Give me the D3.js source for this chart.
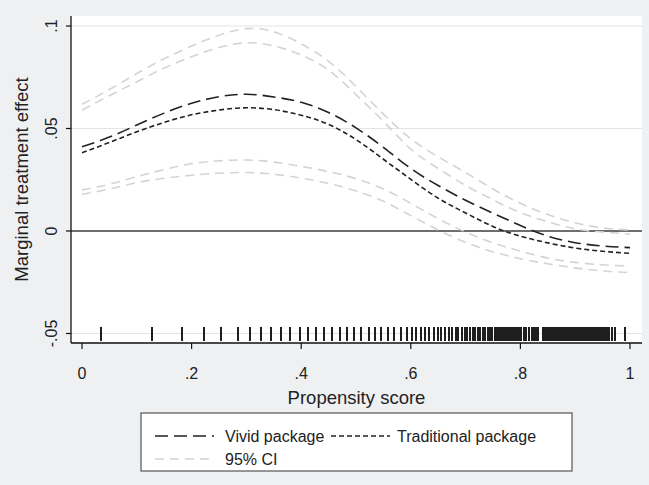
<!DOCTYPE html>
<html>
<head>
<meta charset="utf-8">
<script src="https://cdn.jsdelivr.net/npm/d3@7"></script>
<style>
  body { margin: 0; background: #eef0f2; }
  svg { display: block; font-family: "Liberation Sans", Arial, sans-serif; }
</style>
</head>
<body>
<div id="chart"></div>
<script>
// propensity score grid and the estimated effects
const scores = [0, .05, .1, .15, .2, .25, .3, .35, .4, .45, .5, .55, .6, .65, .7, .75, .8, .85, .9, .95, 1];

const vivid = [0.0411, 0.0458, 0.0517, 0.0575, 0.0623, 0.0655, 0.0667, 0.0654, 0.0628, 0.0578, 0.0503,
  0.0408, 0.0305, 0.0222, 0.0150, 0.0087, 0.0027, -0.0025, -0.0057, -0.0073, -0.0081];
const traditional = [0.0382, 0.0432, 0.0484, 0.0530, 0.0567, 0.0590, 0.0601, 0.0592, 0.0565, 0.0520, 0.0446,
  0.0350, 0.0252, 0.0160, 0.0088, 0.0022, -0.0025, -0.0058, -0.0083, -0.0099, -0.0109];

const vividUpper = [0.0618, 0.0690, 0.0768, 0.0840, 0.0902, 0.0955, 0.0987, 0.0972, 0.0913, 0.0828, 0.0705,
  0.0570, 0.0450, 0.0362, 0.0285, 0.0205, 0.0135, 0.0080, 0.0040, 0.0015, 0.0005];
const vividLower = [0.0200, 0.0228, 0.0265, 0.0300, 0.0328, 0.0342, 0.0346, 0.0336, 0.0315, 0.0290, 0.0255,
  0.0205, 0.0135, 0.0060, -0.0005, -0.0058, -0.0098, -0.0132, -0.0153, -0.0165, -0.0171];
const tradUpper = [0.0590, 0.0660, 0.0728, 0.0795, 0.0850, 0.0895, 0.0918, 0.0903, 0.0858, 0.0785, 0.0665,
  0.0535, 0.0400, 0.0305, 0.0222, 0.0152, 0.0090, 0.0045, 0.0010, -0.0005, -0.0015];
const tradLower = [0.0179, 0.0205, 0.0236, 0.0257, 0.0272, 0.0282, 0.0285, 0.0277, 0.0258, 0.0232, 0.0195,
  0.0145, 0.0075, 0.0005, -0.0055, -0.0102, -0.0135, -0.0160, -0.0180, -0.0195, -0.0203];

// rug of observed propensity scores
const rugScores = [0.034, 0.128, 0.183, 0.222, 0.253, 0.284, 0.306, 0.326, 0.345, 0.363, 0.380, 0.397,
  0.412, 0.427, 0.442, 0.457, 0.470, 0.484, 0.497, 0.509, 0.523, 0.535, 0.546, 0.558, 0.569,
  0.583, 0.593, 0.602, 0.610, 0.619, 0.626, 0.634, 0.642, 0.649, 0.656, 0.662, 0.669, 0.676, 0.682,
  0.687, 0.693, 0.698, 0.703, 0.708, 0.713, 0.717, 0.722, 0.726, 0.731, 0.735, 0.740, 0.745, 0.749,
  0.753, 0.757, 0.761, 0.764, 0.768, 0.771, 0.775, 0.778, 0.781, 0.784, 0.787, 0.790, 0.793, 0.797,
  0.801, 0.807, 0.811, 0.816, 0.821, 0.824, 0.828, 0.833,
  0.842, 0.845, 0.848, 0.851, 0.854, 0.857, 0.860, 0.863, 0.866, 0.869, 0.872, 0.875, 0.878, 0.881,
  0.884, 0.887, 0.890, 0.893, 0.896, 0.899, 0.902, 0.905, 0.908, 0.911, 0.914, 0.917, 0.920, 0.923,
  0.926, 0.929, 0.932, 0.935, 0.938, 0.941, 0.944, 0.947, 0.950, 0.953, 0.956, 0.959, 0.962,
  0.967, 0.973, 0.990];

const xTicks = [0, .2, .4, .6, .8, 1];
const xTickLabels = ["0", ".2", ".4", ".6", ".8", "1"];
const yTicks = [-.05, 0, .05, .1];
const yTickLabels = ["-.05", "0", ".05", ".1"];

const W = 649, H = 485;
const plot = {left: 71, right: 642, top: 16, bottom: 343};

const svg = d3.select("#chart").append("svg")
  .attr("width", W)
  .attr("height", H);

svg.append("rect")
  .attr("width", W).attr("height", H)
  .attr("fill", "#eef0f2");

svg.append("rect")
  .attr("x", plot.left).attr("y", plot.top)
  .attr("width", plot.right - plot.left)
  .attr("height", plot.bottom - plot.top)
  .attr("fill", "#fff");

const x = d3.scaleLinear().domain([0, 1]).range([82, 630]);
const y = d3.scaleLinear().domain([-.05, .1]).range([333.5, 26]);

// horizontal grid lines (zero gets its own darker line)
svg.selectAll(".grid")
  .data(yTicks.filter(d => d !== 0))
  .enter().append("line")
  .attr("class", "grid")
  .attr("x1", plot.left).attr("x2", plot.right)
  .attr("y1", d => y(d)).attr("y2", d => y(d))
  .attr("stroke", "#e4e4e4")
  .attr("stroke-width", 1.2);

svg.append("line")
  .attr("x1", plot.left).attr("x2", plot.right)
  .attr("y1", y(0)).attr("y2", y(0))
  .attr("stroke", "#6e6e6e")
  .attr("stroke-width", 2);

// rug
svg.selectAll(".rug")
  .data(rugScores)
  .enter().append("line")
  .attr("class", "rug")
  .attr("x1", d => x(d)).attr("x2", d => x(d))
  .attr("y1", y(-.05) - 7).attr("y2", y(-.05) + 7)
  .attr("stroke", "#1e1e1e")
  .attr("stroke-width", 2)
  .attr("shape-rendering", "crispEdges");

const line = d3.line()
  .x((d, i) => x(scores[i]))
  .y(d => y(d))
  .curve(d3.curveNatural);

const series = [
  {values: vividUpper, color: "#d4d4d4", dash: "9,6", width: 1.6},
  {values: tradUpper, color: "#d4d4d4", dash: "9,6", width: 1.6},
  {values: vividLower, color: "#d4d4d4", dash: "9,6", width: 1.6},
  {values: tradLower, color: "#d4d4d4", dash: "9,6", width: 1.6},
  {values: vivid, color: "#222", dash: "13,6", width: 1.6},
  {values: traditional, color: "#222", dash: "5,3", width: 1.6}
];

series.forEach(s => {
  svg.append("path")
    .datum(s.values)
    .attr("fill", "none")
    .attr("stroke", s.color)
    .attr("stroke-width", s.width)
    .attr("stroke-dasharray", s.dash)
    .attr("d", line);
});

// axes, drawn by hand to match the Stata look
svg.append("line")
  .attr("x1", plot.left).attr("x2", plot.left)
  .attr("y1", plot.top).attr("y2", plot.bottom)
  .attr("stroke", "#111").attr("stroke-width", 1.3);

svg.append("line")
  .attr("x1", plot.left).attr("x2", plot.right)
  .attr("y1", plot.bottom).attr("y2", plot.bottom)
  .attr("stroke", "#111").attr("stroke-width", 1.3);

svg.selectAll(".ytick")
  .data(yTicks)
  .enter().append("line")
  .attr("x1", plot.left - 5).attr("x2", plot.left)
  .attr("y1", d => y(d)).attr("y2", d => y(d))
  .attr("stroke", "#111").attr("stroke-width", 1.2);

svg.selectAll(".ylab")
  .data(yTicks)
  .enter().append("text")
  .attr("transform", d => `translate(57,${y(d)}) rotate(-90)`)
  .attr("text-anchor", "middle")
  .style("font-size", "16px")
  .style("fill", "#222")
  .text((d, i) => yTickLabels[i]);

svg.selectAll(".xtick")
  .data(xTicks)
  .enter().append("line")
  .attr("x1", d => x(d)).attr("x2", d => x(d))
  .attr("y1", plot.bottom).attr("y2", plot.bottom + 6)
  .attr("stroke", "#111").attr("stroke-width", 1.2);

svg.selectAll(".xlab")
  .data(xTicks)
  .enter().append("text")
  .attr("x", d => x(d))
  .attr("y", 379)
  .attr("text-anchor", "middle")
  .style("font-size", "16px")
  .style("fill", "#222")
  .text((d, i) => xTickLabels[i]);

svg.append("text")
  .attr("x", (plot.left + plot.right) / 2)
  .attr("y", 404)
  .attr("text-anchor", "middle")
  .style("font-size", "18.5px")
  .style("fill", "#222")
  .text("Propensity score");

svg.append("text")
  .attr("transform", `translate(28,${(plot.top + plot.bottom) / 2}) rotate(-90)`)
  .attr("text-anchor", "middle")
  .style("font-size", "18.5px")
  .style("fill", "#222")
  .text("Marginal treatment effect");

// legend
const legend = svg.append("g");
legend.append("rect")
  .attr("x", 141).attr("y", 413)
  .attr("width", 431).attr("height", 58)
  .attr("fill", "#fff")
  .attr("stroke", "#555")
  .attr("stroke-width", 1.2);

const legendItems = [
  {label: "Vivid package", color: "#222", dash: "13,6", lx: 155, tx: 225, ty: 436},
  {label: "Traditional package", color: "#222", dash: "5,3", lx: 331, tx: 397, ty: 436},
  {label: "95% CI", color: "#d4d4d4", dash: "9,6", lx: 155, tx: 225, ty: 459}
];

legendItems.forEach(item => {
  legend.append("line")
    .attr("x1", item.lx).attr("x2", item.lx + 59)
    .attr("y1", item.ty).attr("y2", item.ty)
    .attr("stroke", item.color)
    .attr("stroke-width", 1.6)
    .attr("stroke-dasharray", item.dash);
  legend.append("text")
    .attr("x", item.tx)
    .attr("y", item.ty)
    .attr("dy", ".35em")
    .style("font-size", "16px")
    .style("fill", "#222")
    .text(item.label);
});
</script>
</body>
</html>
